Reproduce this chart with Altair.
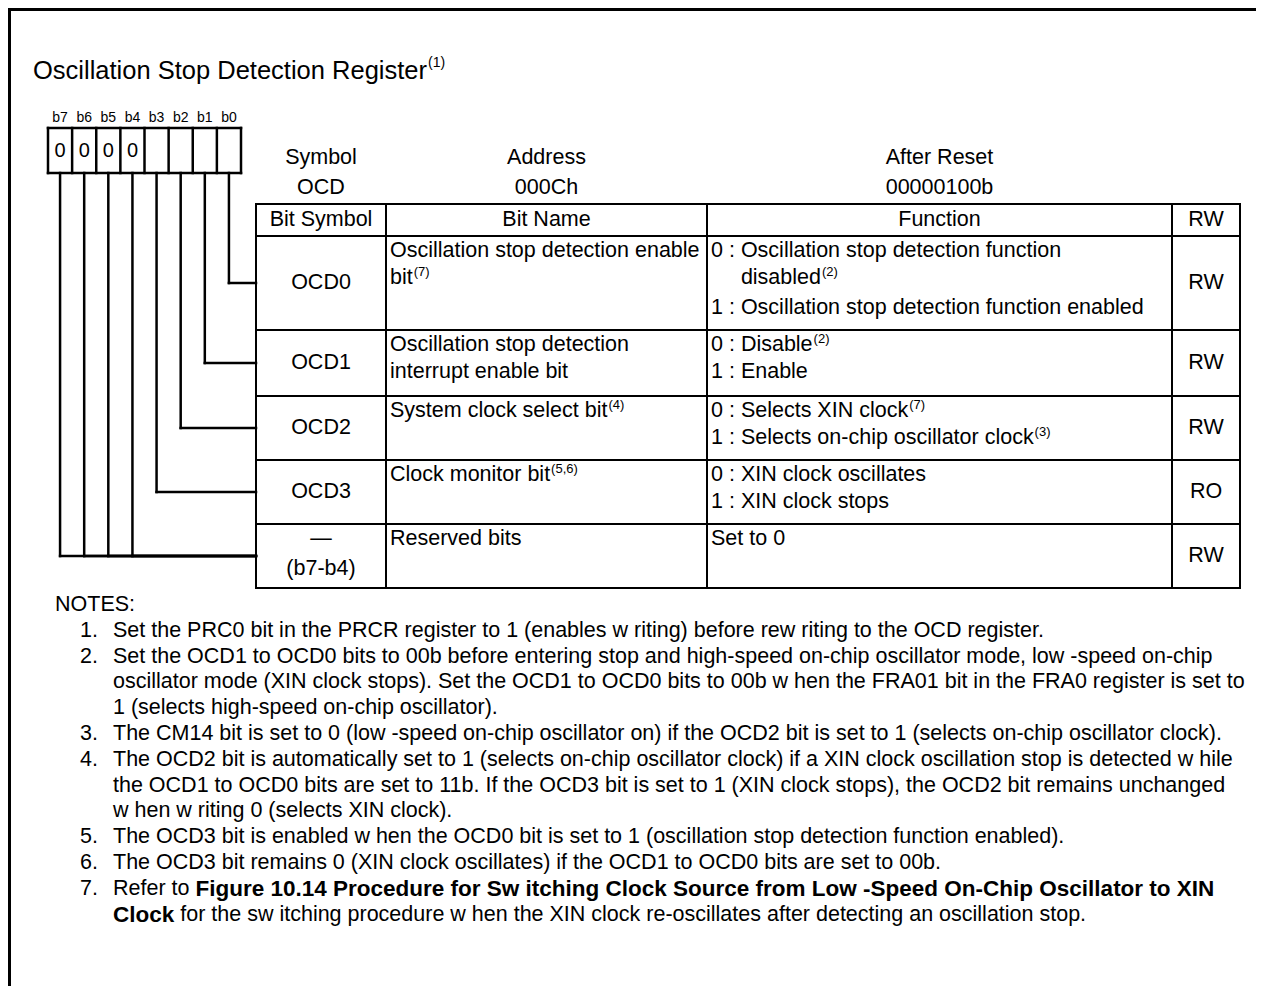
import altair as alt
import pandas as pd

# ---------------- content ----------------
TITLE = "Oscillation Stop Detection Register"
TITLE_REF = "(1)"
BIT_LABELS = ["b7", "b6", "b5", "b4", "b3", "b2", "b1", "b0"]
BIT_RESET = ["0", "0", "0", "0", "", "", "", ""]
HEAD_LABELS = ["Symbol", "Address", "After Reset"]
HEAD_VALUES = ["OCD", "000Ch", "00000100b"]
COL_HEADS = ["Bit Symbol", "Bit Name", "Function", "RW"]
BIT_SYMBOLS = [["OCD0"], ["OCD1"], ["OCD2"], ["OCD3"], ["\u2014", "(b7-b4)"]]
BIT_NAMES = [
    [("Oscillation stop detection enable", ""), ("bit", "(7)")],
    [("Oscillation stop detection", ""), ("interrupt enable bit", "")],
    [("System clock select bit", "(4)")],
    [("Clock monitor bit", "(5,6)")],
    [("Reserved bits", "")],
]
FUNCTIONS = [
    [(False, "0 : Oscillation stop detection function", ""),
     (True, "disabled", "(2)"),
     (False, "1 : Oscillation stop detection function enabled", "")],
    [(False, "0 : Disable", "(2)"), (False, "1 : Enable", "")],
    [(False, "0 : Selects XIN clock", "(7)"),
     (False, "1 : Selects on-chip oscillator clock", "(3)")],
    [(False, "0 : XIN clock oscillates", ""), (False, "1 : XIN clock stops", "")],
    [(False, "Set to 0", "")],
]
ACCESS = ["RW", "RW", "RW", "RO", "RW"]
BIT_ROW = [4, 4, 4, 4, 3, 2, 1, 0]  # table row reached by b7..b0
NOTES_HEAD = "NOTES:"
NOTES = [
    ("1.", [[("Set the PRC0 bit in the PRCR register to 1 (enables w riting) before rew riting to the OCD register.", 0)]]),
    ("2.", [[("Set the OCD1 to OCD0 bits to 00b before entering stop and high-speed on-chip oscillator mode, low -speed on-chip", 0)],
            [("oscillator mode (XIN clock stops). Set the OCD1 to OCD0 bits to 00b w hen the FRA01 bit in the FRA0 register is set to", 0)],
            [("1 (selects high-speed on-chip oscillator).", 0)]]),
    ("3.", [[("The CM14 bit is set to 0 (low -speed on-chip oscillator on) if the OCD2 bit is set to 1 (selects on-chip oscillator clock).", 0)]]),
    ("4.", [[("The OCD2 bit is automatically set to 1 (selects on-chip oscillator clock) if a XIN clock oscillation stop is detected w hile", 0)],
            [("the OCD1 to OCD0 bits are set to 11b. If the OCD3 bit is set to 1 (XIN clock stops), the OCD2 bit remains unchanged", 0)],
            [("w hen w riting 0 (selects XIN clock).", 0)]]),
    ("5.", [[("The OCD3 bit is enabled w hen the OCD0 bit is set to 1 (oscillation stop detection function enabled).", 0)]]),
    ("6.", [[("The OCD3 bit remains 0 (XIN clock oscillates) if the OCD1 to OCD0 bits are set to 00b.", 0)]]),
    ("7.", [[("Refer to ", 0), ("Figure 10.14 Procedure for Sw itching Clock Source from Low -Speed On-Chip Oscillator to XIN", 1)],
            [("Clock", 1), (" for the sw itching procedure w hen the XIN clock re-oscillates after detecting an oscillation stop.", 0)]]),
]

# ---------------- layout ----------------
FONT = "Liberation Sans"
W, H = 1248, 978
X0, Y0 = 8, 8
FS = 21.5        # table text
FS_NOTE = 21.5
FS_NOTE_B = 22.5
FS_TITLE = 25.5
FS_SUP = 13
FS_BIT = 14
BOX_X, BOX_Y0, BOX_Y1, CELL = 48, 128, 173, 24.125
COLS = [256, 386, 707, 1172, 1240]
ROWS = [204, 236, 330, 396, 460, 524, 588]
LINE = 27
NOTE_Y, NOTE_STEP = 605, 25.8

_chars = " !\"#$%&'()*+,-./0123456789:;<=>?@ABCDEFGHIJKLMNOPQRSTUVWXYZ[\\]^_`abcdefghijklmnopqrstuvwxyz{|}~"
_reg = [278,278,355,556,556,889,667,191,333,333,389,584,278,333,278,278] + [556]*10 + \
       [278,278,584,584,584,556,1015] + \
       [667,667,722,722,667,611,778,722,278,500,667,556,833,722,778,667,778,722,667,611,722,667,944,667,667,611] + \
       [278,278,278,469,556,333] + \
       [556,556,500,556,556,278,556,556,222,222,500,222,833,556,556,556,556,333,500,278,556,500,722,500,500,500] + \
       [334,260,334,584]
_bold = [278,333,474,556,556,889,722,238,333,333,389,584,278,333,278,278] + [556]*10 + \
        [333,333,584,584,584,611,975] + \
        [722,722,722,722,667,611,778,722,278,556,722,611,833,722,778,667,778,722,667,611,722,667,944,667,667,611] + \
        [333,278,333,584,556,333] + \
        [556,611,556,611,556,333,611,611,278,278,556,278,889,611,611,611,611,389,556,333,611,556,778,556,556,500] + \
        [389,280,389,584]
REG = dict(zip(_chars, _reg))
BOLD = dict(zip(_chars, _bold))


def tw(s, size, bold=False):
    t = BOLD if bold else REG
    return sum(t.get(c, 1000) for c in s) * size / 1000.0


texts, rules = [], []


def txt(x, y, t, fs=FS, align="left", bold=False):
    if t.strip():
        texts.append(dict(x=x, y=y, t=t.strip(), fs=fs, align=align, bold=bold))


def rule(x, y, x2, y2, sw=2.0):
    rules.append(dict(x=x, y=y, x2=x2, y2=y2, sw=sw))


def txt_sup(x, y, t, sup):
    txt(x, y, t)
    if sup:
        txt(x + tw(t, FS) + 1, y - 6, sup, FS_SUP)


# frame
rule(X0 + 1.5, Y0 + 1.5, X0 + W, Y0 + 1.5, 3)
rule(X0 + 1.5, Y0 + 1.5, X0 + 1.5, Y0 + H, 3)

# title
txt(33, 71, TITLE, FS_TITLE)
txt(33 + tw(TITLE, FS_TITLE) + 1, 63, TITLE_REF, 14)

# bit box
centers = [BOX_X + (i + 0.5) * CELL for i in range(8)]
for i, (lab, val) in enumerate(zip(BIT_LABELS, BIT_RESET)):
    txt(centers[i], 118, lab, FS_BIT, "center")
    txt(centers[i], 151, val, 20, "center")
rule(BOX_X, BOX_Y0, BOX_X + 8 * CELL, BOX_Y0, 2.5)
rule(BOX_X, BOX_Y1, BOX_X + 8 * CELL, BOX_Y1, 2.5)
for i in range(9):
    rule(BOX_X + i * CELL, BOX_Y0, BOX_X + i * CELL, BOX_Y1, 2.5)

# connectors
row_mid = [(ROWS[k + 1] + ROWS[k + 2]) / 2 for k in range(5)]
for i, r in enumerate(BIT_ROW):
    rule(centers[i], BOX_Y1, centers[i], row_mid[r], 2.5)
    rule(centers[i], row_mid[r], COLS[0], row_mid[r], 2.5)

# header above table
col_mid = [(COLS[k] + COLS[k + 1]) / 2 for k in range(4)]
for k in range(3):
    txt(col_mid[k], 158, HEAD_LABELS[k], FS, "center")
    txt(col_mid[k], 188, HEAD_VALUES[k], FS, "center")

# table grid
for yv in ROWS:
    rule(COLS[0], yv, COLS[-1], yv, 2)
for xv in COLS:
    rule(xv, ROWS[0], xv, ROWS[-1], 2)

hy = (ROWS[0] + ROWS[1]) / 2
for k in range(4):
    txt(col_mid[k], hy, COL_HEADS[k], FS, "center")

for r in range(5):
    top = ROWS[r + 1]
    mid = row_mid[r]
    syms = BIT_SYMBOLS[r]
    for j, s in enumerate(syms):
        txt(col_mid[0], mid - 17 * (len(syms) - 1) + 30 * j, s, FS, "center")
    for j, (t, sup) in enumerate(BIT_NAMES[r]):
        txt_sup(COLS[1] + 4, top + 15 + LINE * j, t, sup)
    indent = tw("0 : ", FS)
    for j, (ind, t, sup) in enumerate(FUNCTIONS[r]):
        txt_sup(COLS[2] + 4 + (indent if ind else 0), top + 15 + LINE * j + (3 if j == 2 else 0), t, sup)
    txt(col_mid[3], mid, ACCESS[r], FS, "center")

# notes
txt(55, NOTE_Y, NOTES_HEAD, FS_NOTE)
li = 1
for num, lines in NOTES:
    txt(80, NOTE_Y + NOTE_STEP * li, num, FS_NOTE)
    for segs in lines:
        x = 113
        y = NOTE_Y + NOTE_STEP * li
        for s, b in segs:
            fs = FS_NOTE_B if b else FS_NOTE
            lead = len(s) - len(s.lstrip(" "))
            x += tw(" " * lead, fs, bool(b))
            txt(x, y, s, fs, "left", bool(b))
            x += tw(s.lstrip(" "), fs, bool(b))
        li += 1

# ---------------- chart ----------------
XS = alt.Scale(domain=[X0, X0 + W], nice=False, zero=False)
YS = alt.Scale(domain=[Y0, Y0 + H], nice=False, zero=False, reverse=True)

rdf = pd.DataFrame(rules)
layers = [
    alt.Chart(rdf).mark_rule(color="black", strokeCap="square").encode(
        x=alt.X("x:Q", scale=XS, axis=None),
        y=alt.Y("y:Q", scale=YS, axis=None),
        x2="x2:Q",
        y2="y2:Q",
        strokeWidth=alt.StrokeWidth("sw:Q", scale=None),
    )
]
tdf = pd.DataFrame(texts)
for (al, bd), g in tdf.groupby(["align", "bold"]):
    layers.append(
        alt.Chart(g[["x", "y", "t", "fs"]]).mark_text(
            align=al, baseline="middle", font=FONT,
            fontWeight="bold" if bd else "normal", color="black",
        ).encode(
            x=alt.X("x:Q", scale=XS, axis=None),
            y=alt.Y("y:Q", scale=YS, axis=None),
            text="t:N",
            size=alt.Size("fs:Q", scale=None),
        )
    )

chart = alt.layer(*layers).properties(
    width=W, height=H, padding=0, background="white",
    autosize=alt.AutoSizeParams(type="none"),
).configure_view(strokeWidth=0)

chart.save("out.html", embed_options={"renderer": "svg", "actions": False})
